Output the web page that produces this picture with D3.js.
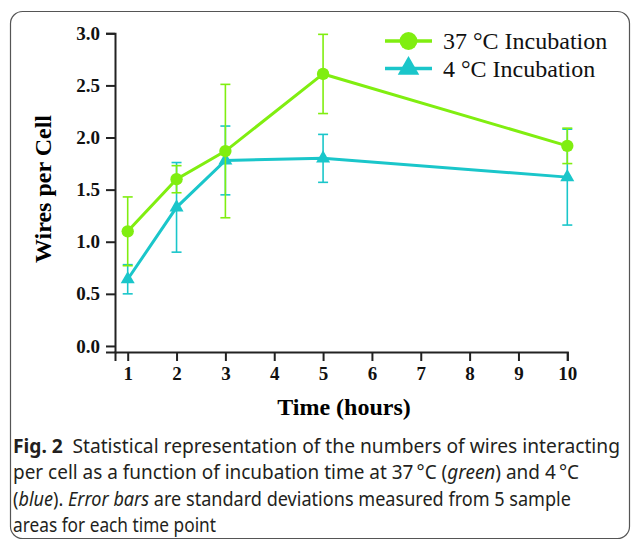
<!doctype html>
<html>
<head>
    <meta charset="UTF-8">
    <title>Wires per Cell</title>
    <script src="https://d3js.org/d3.v7.min.js"></script>
    <style>
        body { margin: 0; background: #fff; }
    </style>
</head>
<body>
<script>
    // data
    var hours = [1, 2, 3, 5, 10];
    var warm = [1.10, 1.60, 1.87, 2.61, 1.92];      // 37 °C
    var warmSd = [0.33, 0.13, 0.64, 0.38, 0.17];
    var cold = [0.64, 1.33, 1.78, 1.80, 1.62];      // 4 °C
    var coldSd = [0.14, 0.43, 0.33, 0.23, 0.46];
    var xTicks = [1, 2, 3, 4, 5, 6, 7, 8, 9, 10];
    var yTicks = [0, 0.5, 1.0, 1.5, 2.0, 2.5, 3.0];
    var seriesNames = ["37 °C Incubation", "4 °C Incubation"];

    var w = 632, h = 540;
    var green = "#80ee10", cyan = "#1ac6ca";
    var serif = "'Liberation Serif', 'Times New Roman', serif";

    var svg = d3.select("body").append("svg")
        .attr("width", w)
        .attr("height", h);

    // frame
    svg.append("rect")
        .attr("x", 10.5).attr("y", 11.5)
        .attr("width", 619).attr("height", 527)
        .attr("rx", 12).attr("ry", 12)
        .attr("fill", "none")
        .attr("stroke", "#555")
        .attr("stroke-width", 1.2);

    var x = d3.scaleLinear().domain([0.74, 10]).range([115, 567.3]);
    var y = d3.scaleLinear().domain([-0.058, 3]).range([352, 33.3]);

    // axes
    var gx = svg.append("g")
        .attr("transform", "translate(0,352)")
        .call(d3.axisBottom(x).tickValues(xTicks).tickSizeOuter(0).tickSize(9).tickPadding(6)
            .tickFormat(d3.format("d")));
    var gy = svg.append("g")
        .attr("transform", "translate(115,0)")
        .call(d3.axisLeft(y).tickValues(yTicks).tickSizeOuter(0).tickSize(9).tickPadding(6)
            .tickFormat(d3.format(".1f")));

    [gx, gy].forEach(function (g) {
        g.select(".domain").attr("stroke", "#222").attr("stroke-width", 2);
        g.selectAll(".tick line").attr("stroke", "#222").attr("stroke-width", 2);
        g.selectAll(".tick text")
            .attr("fill", "#111")
            .style("font-family", serif)
            .style("font-weight", "bold")
            .style("font-size", "19px");
    });

    // axis titles
    svg.append("text")
        .attr("x", 344).attr("y", 415)
        .attr("text-anchor", "middle")
        .style("font-family", serif).style("font-weight", "bold").style("font-size", "24px")
        .text("Time (hours)");
    svg.append("text")
        .attr("transform", "translate(51,189) rotate(-90)")
        .attr("text-anchor", "middle")
        .style("font-family", serif).style("font-weight", "bold").style("font-size", "24px")
        .text("Wires per Cell");

    // series
    var series = [
        { name: seriesNames[1], vals: cold, sd: coldSd, color: cyan, shape: d3.symbolTriangle },
        { name: seriesNames[0], vals: warm, sd: warmSd, color: green, shape: d3.symbolCircle }
    ];

    series.forEach(function (s) {
        var pts = hours.map(function (t, i) { return { t: t, v: s.vals[i], sd: s.sd[i] }; });
        var g = svg.append("g");

        var eb = g.selectAll(".eb").data(pts).enter().append("g")
            .attr("stroke", s.color).attr("stroke-width", 1.6);
        eb.append("line")
            .attr("x1", function (d) { return x(d.t); })
            .attr("x2", function (d) { return x(d.t); })
            .attr("y1", function (d) { return y(d.v + d.sd); })
            .attr("y2", function (d) { return y(d.v - d.sd); });
        [1, -1].forEach(function (sign) {
            eb.append("line")
                .attr("x1", function (d) { return x(d.t) - 5; })
                .attr("x2", function (d) { return x(d.t) + 5; })
                .attr("y1", function (d) { return y(d.v + sign * d.sd); })
                .attr("y2", function (d) { return y(d.v + sign * d.sd); });
        });

        var line = d3.line()
            .x(function (d) { return x(d.t); })
            .y(function (d) { return y(d.v); });
        g.append("path")
            .datum(pts)
            .attr("d", line)
            .attr("fill", "none")
            .attr("stroke", s.color)
            .attr("stroke-width", 3);

        g.selectAll(".mk").data(pts).enter().append("path")
            .attr("transform", function (d) { return "translate(" + x(d.t) + "," + y(d.v) + ")"; })
            .attr("d", d3.symbol().type(s.shape).size(s.shape === d3.symbolCircle ? 120 : 85))
            .attr("fill", s.color);
    });

    // legend
    var legend = [
        { name: seriesNames[0], color: green, shape: d3.symbolCircle, size: 250, y: 41 },
        { name: seriesNames[1], color: cyan, shape: d3.symbolTriangle, size: 200, y: 68.5 }
    ];
    var lg = svg.selectAll(".lg").data(legend).enter().append("g")
        .attr("transform", function (d) { return "translate(0," + d.y + ")"; });
    lg.append("line")
        .attr("x1", 385).attr("x2", 432)
        .attr("stroke", function (d) { return d.color; })
        .attr("stroke-width", 3.5);
    lg.append("path")
        .attr("transform", "translate(408.5,0)")
        .attr("d", function (d) { return d3.symbol().type(d.shape).size(d.size)(); })
        .attr("fill", function (d) { return d.color; });
    lg.append("text")
        .attr("x", 443).attr("dy", "0.35em")
        .style("font-family", serif).style("font-size", "24px")
        .attr("fill", "#111")
        .text(function (d) { return d.name; });

    // caption, each line stretched to the width it has in the figure
    var capLines = [
        [["Fig. 2", "b"], ["\u2002Statistical representation of the numbers of wires interacting", ""]],
        [["per cell as a function of incubation time at 37\u2009°C (", ""], ["green", "i"], [") and 4\u2009°C", ""]],
        [["(", ""], ["blue", "i"], ["). ", ""], ["Error bars", "i"], [" are standard deviations measured from 5 sample", ""]],
        [["areas for each time point", ""]]
    ];
    var capRight = [620, 579, 571, 216];
    var capBase = [453, 479.3, 505.6, 532];
    var capLeft = 13;

    capLines.forEach(function (parts, i) {
        var t = svg.append("text")
            .attr("x", capLeft).attr("y", capBase[i])
            .attr("fill", "#231f20")
            .attr("textLength", capRight[i] - capLeft)
            .attr("lengthAdjust", "spacingAndGlyphs")
            .style("font-family", "'Noto Sans', 'Open Sans', sans-serif")
            .style("font-size", "19px");
        parts.forEach(function (p) {
            var sp = t.append("tspan").text(p[0]);
            if (p[1] === "b") sp.style("font-weight", "bold");
            if (p[1] === "i") sp.style("font-style", "italic");
        });
    });
</script>
</body>
</html>
